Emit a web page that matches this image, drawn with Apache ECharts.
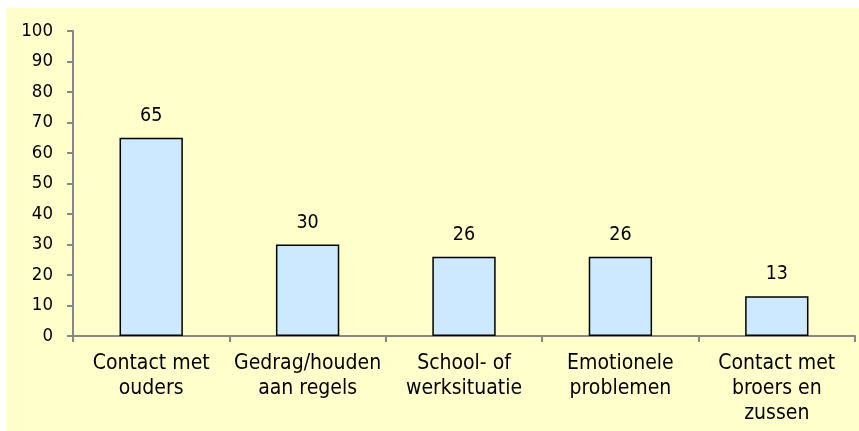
<!DOCTYPE html>
<html>
<head>
<meta charset="utf-8">
<script src="https://cdn.jsdelivr.net/npm/echarts@6/dist/echarts.min.js"></script>
<style>
html,body{margin:0;padding:0;background:#fff;width:859px;height:431px;overflow:hidden;}
#c{position:absolute;left:6px;top:8px;width:853px;height:423px;}
</style>
</head>
<body>
<div id="c"></div>
<script>
const categories = ["Contact met\nouders", "Gedrag/houden\naan regels", "School- of\nwerksituatie", "Emotionele\nproblemen", "Contact met\nbroers en\nzussen"];
const values = [65, 30, 26, 26, 13];
const yTicks = { min: 0, max: 100, interval: 10 };
const FONT = '"DejaVu Sans Condensed", "DejaVu Sans", sans-serif';

const chart = echarts.init(document.getElementById('c'), null, { renderer: 'canvas' });
chart.setOption({
  backgroundColor: '#FFFFCC',
  animation: false,
  grid: { left: 67, right: 4, top: 23, bottom: 95 },
  xAxis: {
    type: 'category',
    data: categories,
    axisLine: { show: true, lineStyle: { color: '#878787', width: 2 } },
    axisTick: { show: true, alignWithLabel: false, length: 6, lineStyle: { color: '#878787', width: 2 } },
    axisLabel: { color: '#000', fontFamily: FONT, fontSize: 21, lineHeight: 25, margin: 15, interval: 0 }
  },
  yAxis: {
    type: 'value',
    min: yTicks.min, max: yTicks.max, interval: yTicks.interval,
    axisLine: { show: true, lineStyle: { color: '#878787', width: 2 } },
    axisTick: { show: true, length: 6, lineStyle: { color: '#878787', width: 2 } },
    splitLine: { show: false },
    axisLabel: { color: '#000', fontFamily: FONT, fontSize: 18.5, margin: 20 }
  },
  series: [{
    type: 'bar',
    data: values,
    barWidth: '40.5%',
    itemStyle: { color: '#CCE9FF', borderColor: '#000', borderWidth: 1.5 },
    label: { show: true, position: 'top', distance: 12, color: '#000', fontFamily: FONT, fontSize: 19.5 }
  }]
});
</script>
</body>
</html>
